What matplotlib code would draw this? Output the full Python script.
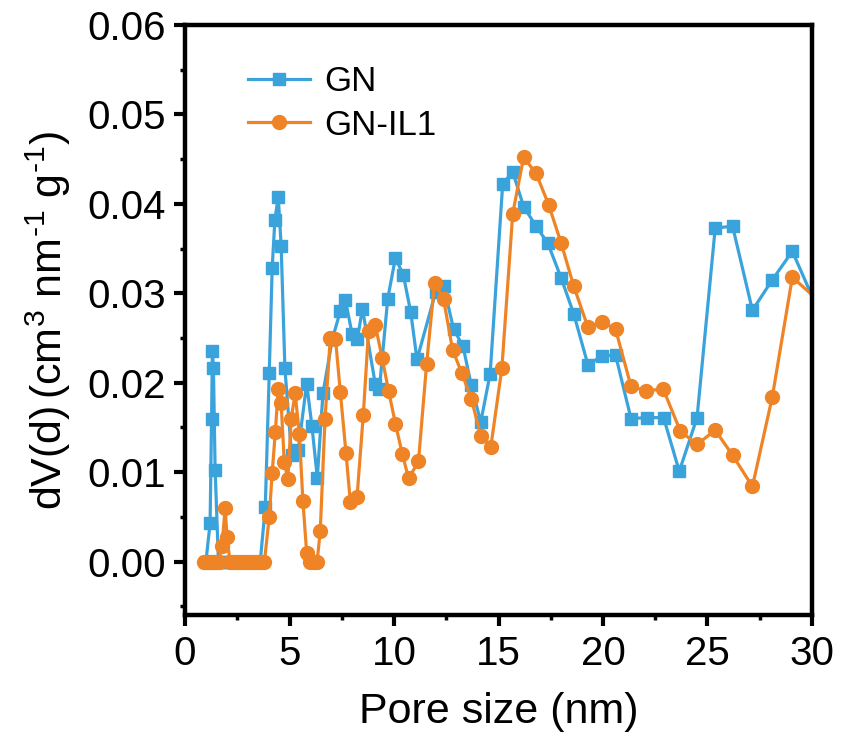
import matplotlib
matplotlib.use("Agg")
import matplotlib.pyplot as plt
from matplotlib.ticker import MultipleLocator

plt.rcParams['font.family'] = ['Liberation Sans', 'DejaVu Sans']
plt.rcParams['mathtext.fontset'] = 'custom'
plt.rcParams['mathtext.rm'] = 'Liberation Sans'
plt.rcParams['mathtext.it'] = 'Liberation Sans'

# pore size (nm) and dV(d) values
gn_x = [1.0, 1.2, 1.27, 1.31, 1.36, 1.44, 1.6, 1.8, 2.0, 2.2, 2.4, 2.6, 2.8, 3.0,
        3.2, 3.4, 3.6, 3.84, 4.03, 4.17, 4.3, 4.46, 4.6, 4.78, 5.1, 5.42, 5.82,
        6.07, 6.33, 6.6, 7.05, 7.43, 7.67, 8.0, 8.25, 8.49, 9.1, 9.3, 9.7, 10.07,
        10.45, 10.8, 11.1, 12.0, 12.38, 12.85, 13.3, 13.7, 14.15, 14.6, 15.2,
        15.68, 16.2, 16.8, 17.36, 18.0, 18.6, 19.28, 19.95, 20.6, 21.34, 22.1,
        22.9, 23.65, 24.5, 25.37, 26.2, 27.15, 28.1, 29.06, 30.3]
gn_y = [0.0, 0.0043, 0.0159, 0.0236, 0.0216, 0.0103, 0.0, 0.0, 0.0, 0.0, 0.0, 0.0,
        0.0, 0.0, 0.0, 0.0, 0.0, 0.0061, 0.0211, 0.0328, 0.0382, 0.0408, 0.0353,
        0.0216, 0.0119, 0.0125, 0.0199, 0.0152, 0.0094, 0.0188, 0.0249, 0.0280,
        0.0293, 0.0254, 0.0249, 0.0283, 0.0199, 0.0193, 0.0294, 0.0340, 0.0320,
        0.0279, 0.0226, 0.0302, 0.0308, 0.0260, 0.0241, 0.0197, 0.0156, 0.0210,
        0.0422, 0.0436, 0.0397, 0.0375, 0.0356, 0.0317, 0.0277, 0.0220, 0.0230,
        0.0231, 0.0160, 0.0161, 0.0161, 0.0101, 0.0161, 0.0373, 0.0375, 0.0281,
        0.0315, 0.0347, 0.0281]

il_x = [0.9, 1.0, 1.1, 1.2, 1.3, 1.4, 1.5, 1.62, 1.77, 1.92, 2.01, 2.15, 2.3,
        2.45, 2.6, 2.75, 2.9, 3.05, 3.2, 3.35, 3.5, 3.65, 3.8, 4.03, 4.17, 4.32,
        4.46, 4.6, 4.75, 4.92, 5.08, 5.27, 5.47, 5.64, 5.82, 5.98, 6.15, 6.32,
        6.47, 6.7, 6.95, 7.2, 7.43, 7.7, 7.91, 8.23, 8.53, 8.78, 9.1, 9.43, 9.74,
        10.07, 10.4, 10.7, 11.17, 11.56, 11.94, 12.37, 12.8, 13.24, 13.7, 14.15,
        14.63, 15.16, 15.68, 16.2, 16.8, 17.4, 18.0, 18.6, 19.28, 19.95, 20.6,
        21.34, 22.06, 22.88, 23.7, 24.5, 25.37, 26.2, 27.15, 28.1, 29.06, 30.3]
il_y = [0.0, 0.0, 0.0, 0.0, 0.0, 0.0, 0.0, 0.0, 0.0018, 0.0060, 0.0028, 0.0, 0.0,
        0.0, 0.0, 0.0, 0.0, 0.0, 0.0, 0.0, 0.0, 0.0, 0.0, 0.0050, 0.0099, 0.0145,
        0.0193, 0.0177, 0.0111, 0.0092, 0.0160, 0.0188, 0.0143, 0.0068, 0.0010,
        0.0, 0.0, 0.0, 0.0034, 0.0160, 0.0250, 0.0249, 0.0190, 0.0122, 0.0067,
        0.0072, 0.0164, 0.0258, 0.0265, 0.0228, 0.0191, 0.0154, 0.0120, 0.0093,
        0.0112, 0.0221, 0.0312, 0.0294, 0.0237, 0.0211, 0.0182, 0.0141, 0.0128,
        0.0216, 0.0389, 0.0452, 0.0434, 0.0399, 0.0356, 0.0308, 0.0262, 0.0268,
        0.0260, 0.0196, 0.0191, 0.0193, 0.0146, 0.0131, 0.0147, 0.0119, 0.0084,
        0.0184, 0.0318, 0.0292]

BLUE = "#3BA3DC"
ORANGE = "#EF8427"

fig = plt.figure(figsize=(8.41, 7.44), dpi=100)
ax = fig.add_axes([0.22, 0.173, 0.7455, 0.7934])

ax.plot(gn_x, gn_y, color=BLUE, lw=2.3, marker='s', ms=8.5, label='GN')
ax.plot(il_x, il_y, color=ORANGE, lw=2.3, marker='o', ms=10, label='GN-IL1')

ax.set_xlim(0, 30)
ax.set_ylim(-0.006, 0.06)
ax.xaxis.set_major_locator(MultipleLocator(5))
ax.xaxis.set_minor_locator(MultipleLocator(2.5))
ax.yaxis.set_major_locator(MultipleLocator(0.01))
ax.yaxis.set_minor_locator(MultipleLocator(0.005))
ax.yaxis.set_major_formatter(matplotlib.ticker.FormatStrFormatter('%.2f'))

for s in ax.spines.values():
    s.set_linewidth(3.2)
ax.tick_params(which='major', direction='out', length=8, width=3, labelsize=29, pad=6)
ax.tick_params(which='minor', direction='out', length=3.5, width=2.5)

ax.set_xlabel('Pore size (nm)', fontsize=31, labelpad=14)
ax.set_ylabel(r'dV(d)$\,$(cm$^3$ nm$^{\text{-}1}$ g$^{\text{-}1}$)', fontsize=31, labelpad=10)

ax.legend(loc='upper left', bbox_to_anchor=(0.05, 0.985), frameon=False,
          fontsize=25, handlelength=1.8, handletextpad=0.4, labelspacing=0.3)

fig.savefig("out.png", dpi=100)
